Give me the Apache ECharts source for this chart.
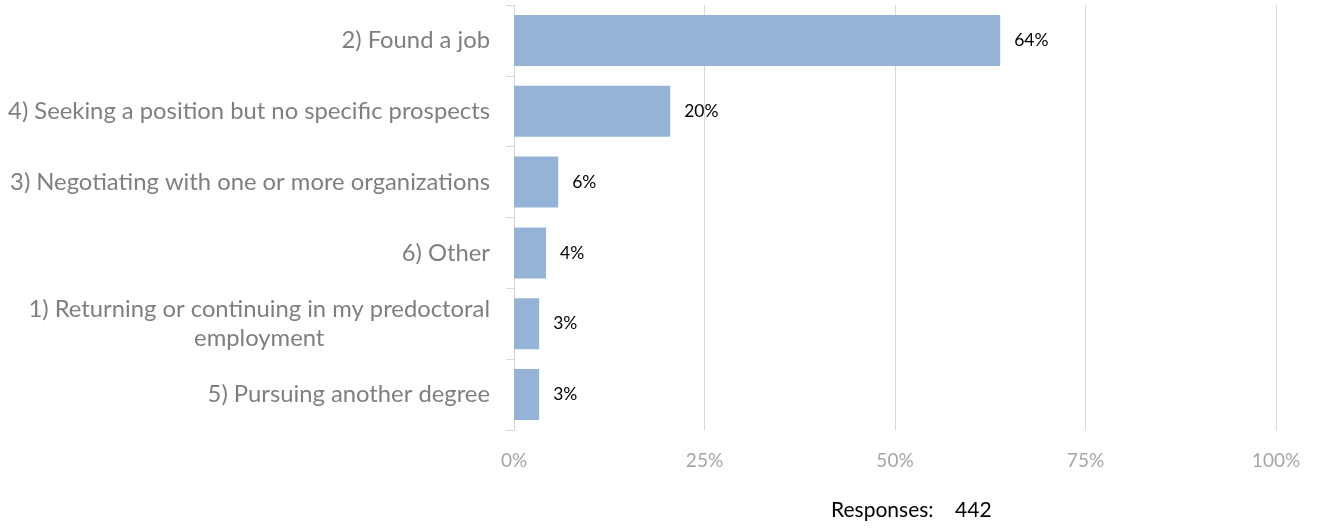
<!DOCTYPE html>
<html>
<head>
<meta charset="utf-8">
<script src="https://cdn.jsdelivr.net/npm/echarts@6/dist/echarts.min.js"></script>
<style>html,body{margin:0;padding:0;background:#fff}#c{width:1320px;height:529px}</style>
</head>
<body>
<div id="c"></div>
<script>
const categories = [
  "2) Found a job",
  "4) Seeking a position but no specific prospects",
  "3) Negotiating with one or more organizations",
  "6) Other",
  "1) Returning or continuing in my predoctoral\nemployment",
  "5) Pursuing another degree"
];
const values = [63.8, 20.5, 5.8, 4.2, 3.3, 3.3];
const valueLabels = ["64%", "20%", "6%", "4%", "3%", "3%"];
const xTicks = [0, 25, 50, 75, 100];
const responsesText = "Responses:    442";

const FONT = "Lato, 'Open Sans', sans-serif";
const chart = echarts.init(document.getElementById('c'));
chart.setOption({
  animation: false,
  backgroundColor: '#fff',
  grid: { left: 514, right: 44, top: 5, bottom: 99, containLabel: false },
  xAxis: {
    type: 'value', min: 0, max: 100, interval: 25,
    axisLine: { show: false }, axisTick: { show: false },
    splitLine: { show: true, lineStyle: { color: '#D9D9D9', width: 1 } },
    axisLabel: { margin: 21, fontFamily: FONT, fontSize: 19, color: '#A6A6A6',
      formatter: v => xTicks.includes(v) ? v + '%' : '' }
  },
  yAxis: {
    type: 'category', data: categories, inverse: true,
    axisLine: { show: true, lineStyle: { color: '#D9D9D9' } },
    axisTick: { show: true, length: 8, lineStyle: { color: '#D9D9D9' } },
    axisLabel: { margin: 24, fontFamily: FONT, fontSize: 23.8, color: '#7F7F7F', lineHeight: 29,
      formatter: v => v.split('\n').map(s => '{c|' + s + '}').join('\n'),
      rich: { c: { align: 'center', fontFamily: FONT, fontSize: 23.8, color: '#7F7F7F', lineHeight: 29 } } }
  },
  series: [{
    type: 'bar', data: values, barWidth: 51,
    itemStyle: { color: '#95B3D7' },
    label: { show: true, position: 'right', distance: 14, fontFamily: FONT, fontSize: 17.5, color: '#000',
      formatter: p => valueLabels[p.dataIndex] }
  }],
  graphic: [{
    type: 'text', left: 831, top: 500,
    style: { text: responsesText, font: "21px " + FONT, fill: '#000' }
  }]
});
</script>
</body>
</html>
